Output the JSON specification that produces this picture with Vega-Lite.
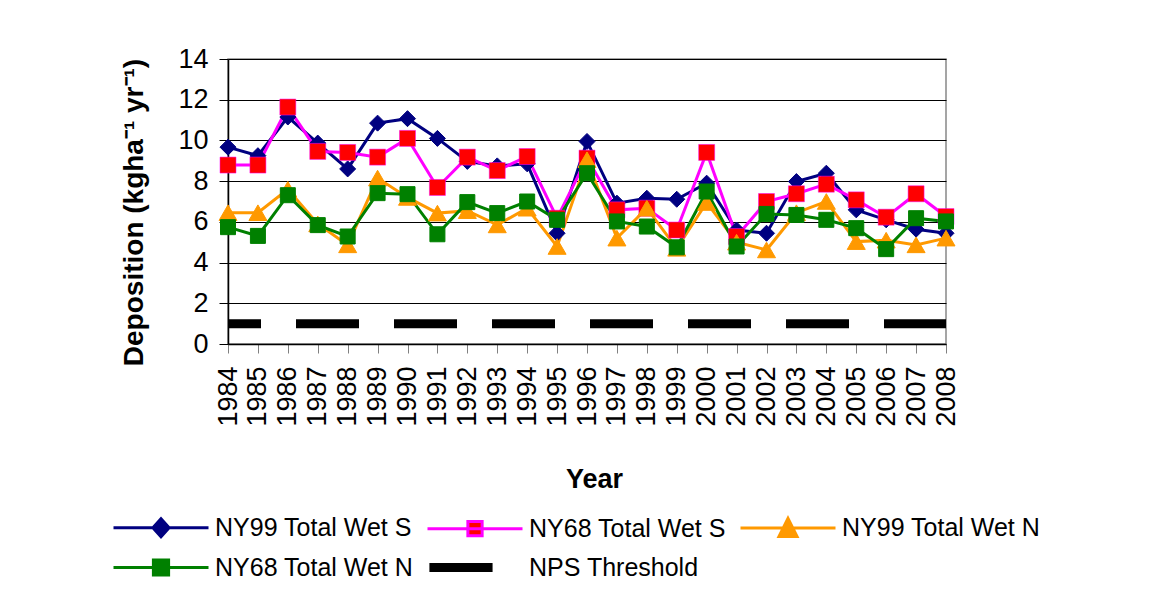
{
  "$schema": "https://vega.github.io/schema/vega-lite/v6.json",
  "width": 718,
  "height": 285,
  "autosize": {"type": "none"},
  "padding": {"left": 228, "top": 59, "right": 225, "bottom": 262},
  "background": "white",
  "config": {
    "font": "Liberation Sans",
    "view": {"stroke": "#888888", "strokeWidth": 1.5},
    "axis": {"labelFont": "Liberation Sans", "titleFont": "Liberation Sans", "labelColor": "black", "titleColor": "black"}
  },
  "data": {
    "values": [
      {"year": "1984", "series": "NY99 Total Wet S", "value": 9.67},
      {"year": "1985", "series": "NY99 Total Wet S", "value": 9.25},
      {"year": "1986", "series": "NY99 Total Wet S", "value": 11.15},
      {"year": "1987", "series": "NY99 Total Wet S", "value": 9.87},
      {"year": "1988", "series": "NY99 Total Wet S", "value": 8.6},
      {"year": "1989", "series": "NY99 Total Wet S", "value": 10.85},
      {"year": "1990", "series": "NY99 Total Wet S", "value": 11.07},
      {"year": "1991", "series": "NY99 Total Wet S", "value": 10.1},
      {"year": "1992", "series": "NY99 Total Wet S", "value": 8.97},
      {"year": "1993", "series": "NY99 Total Wet S", "value": 8.75},
      {"year": "1994", "series": "NY99 Total Wet S", "value": 8.85},
      {"year": "1995", "series": "NY99 Total Wet S", "value": 5.44},
      {"year": "1996", "series": "NY99 Total Wet S", "value": 9.95},
      {"year": "1997", "series": "NY99 Total Wet S", "value": 6.92},
      {"year": "1998", "series": "NY99 Total Wet S", "value": 7.16},
      {"year": "1999", "series": "NY99 Total Wet S", "value": 7.11},
      {"year": "2000", "series": "NY99 Total Wet S", "value": 7.9},
      {"year": "2001", "series": "NY99 Total Wet S", "value": 5.6},
      {"year": "2002", "series": "NY99 Total Wet S", "value": 5.44},
      {"year": "2003", "series": "NY99 Total Wet S", "value": 7.98},
      {"year": "2004", "series": "NY99 Total Wet S", "value": 8.39},
      {"year": "2005", "series": "NY99 Total Wet S", "value": 6.59},
      {"year": "2006", "series": "NY99 Total Wet S", "value": 6.1},
      {"year": "2007", "series": "NY99 Total Wet S", "value": 5.64},
      {"year": "2008", "series": "NY99 Total Wet S", "value": 5.44},
      {"year": "1984", "series": "NY68 Total Wet S", "value": 8.79},
      {"year": "1985", "series": "NY68 Total Wet S", "value": 8.79},
      {"year": "1986", "series": "NY68 Total Wet S", "value": 11.64},
      {"year": "1987", "series": "NY68 Total Wet S", "value": 9.46},
      {"year": "1988", "series": "NY68 Total Wet S", "value": 9.41},
      {"year": "1989", "series": "NY68 Total Wet S", "value": 9.18},
      {"year": "1990", "series": "NY68 Total Wet S", "value": 10.1},
      {"year": "1991", "series": "NY68 Total Wet S", "value": 7.69},
      {"year": "1992", "series": "NY68 Total Wet S", "value": 9.18},
      {"year": "1993", "series": "NY68 Total Wet S", "value": 8.52},
      {"year": "1994", "series": "NY68 Total Wet S", "value": 9.21},
      {"year": "1995", "series": "NY68 Total Wet S", "value": 6.18},
      {"year": "1996", "series": "NY68 Total Wet S", "value": 9.13},
      {"year": "1997", "series": "NY68 Total Wet S", "value": 6.59},
      {"year": "1998", "series": "NY68 Total Wet S", "value": 6.67},
      {"year": "1999", "series": "NY68 Total Wet S", "value": 5.6},
      {"year": "2000", "series": "NY68 Total Wet S", "value": 9.41},
      {"year": "2001", "series": "NY68 Total Wet S", "value": 5.28},
      {"year": "2002", "series": "NY68 Total Wet S", "value": 7.0},
      {"year": "2003", "series": "NY68 Total Wet S", "value": 7.38},
      {"year": "2004", "series": "NY68 Total Wet S", "value": 7.85},
      {"year": "2005", "series": "NY68 Total Wet S", "value": 7.08},
      {"year": "2006", "series": "NY68 Total Wet S", "value": 6.23},
      {"year": "2007", "series": "NY68 Total Wet S", "value": 7.38},
      {"year": "2008", "series": "NY68 Total Wet S", "value": 6.26},
      {"year": "1984", "series": "NY99 Total Wet N", "value": 6.45},
      {"year": "1985", "series": "NY99 Total Wet N", "value": 6.45},
      {"year": "1986", "series": "NY99 Total Wet N", "value": 7.6},
      {"year": "1987", "series": "NY99 Total Wet N", "value": 5.9},
      {"year": "1988", "series": "NY99 Total Wet N", "value": 4.87},
      {"year": "1989", "series": "NY99 Total Wet N", "value": 8.15},
      {"year": "1990", "series": "NY99 Total Wet N", "value": 7.2},
      {"year": "1991", "series": "NY99 Total Wet N", "value": 6.43},
      {"year": "1992", "series": "NY99 Total Wet N", "value": 6.55},
      {"year": "1993", "series": "NY99 Total Wet N", "value": 5.85},
      {"year": "1994", "series": "NY99 Total Wet N", "value": 6.67},
      {"year": "1995", "series": "NY99 Total Wet N", "value": 4.79},
      {"year": "1996", "series": "NY99 Total Wet N", "value": 9.05},
      {"year": "1997", "series": "NY99 Total Wet N", "value": 5.2},
      {"year": "1998", "series": "NY99 Total Wet N", "value": 6.67},
      {"year": "1999", "series": "NY99 Total Wet N", "value": 4.7},
      {"year": "2000", "series": "NY99 Total Wet N", "value": 6.95},
      {"year": "2001", "series": "NY99 Total Wet N", "value": 5.0},
      {"year": "2002", "series": "NY99 Total Wet N", "value": 4.62},
      {"year": "2003", "series": "NY99 Total Wet N", "value": 6.45},
      {"year": "2004", "series": "NY99 Total Wet N", "value": 7.0},
      {"year": "2005", "series": "NY99 Total Wet N", "value": 5.03},
      {"year": "2006", "series": "NY99 Total Wet N", "value": 5.1},
      {"year": "2007", "series": "NY99 Total Wet N", "value": 4.87},
      {"year": "2008", "series": "NY99 Total Wet N", "value": 5.2},
      {"year": "1984", "series": "NY68 Total Wet N", "value": 5.74},
      {"year": "1985", "series": "NY68 Total Wet N", "value": 5.31},
      {"year": "1986", "series": "NY68 Total Wet N", "value": 7.31},
      {"year": "1987", "series": "NY68 Total Wet N", "value": 5.84},
      {"year": "1988", "series": "NY68 Total Wet N", "value": 5.28},
      {"year": "1989", "series": "NY68 Total Wet N", "value": 7.41},
      {"year": "1990", "series": "NY68 Total Wet N", "value": 7.36},
      {"year": "1991", "series": "NY68 Total Wet N", "value": 5.39},
      {"year": "1992", "series": "NY68 Total Wet N", "value": 6.97},
      {"year": "1993", "series": "NY68 Total Wet N", "value": 6.43},
      {"year": "1994", "series": "NY68 Total Wet N", "value": 7.0},
      {"year": "1995", "series": "NY68 Total Wet N", "value": 6.1},
      {"year": "1996", "series": "NY68 Total Wet N", "value": 8.39},
      {"year": "1997", "series": "NY68 Total Wet N", "value": 6.02},
      {"year": "1998", "series": "NY68 Total Wet N", "value": 5.77},
      {"year": "1999", "series": "NY68 Total Wet N", "value": 4.75},
      {"year": "2000", "series": "NY68 Total Wet N", "value": 7.49},
      {"year": "2001", "series": "NY68 Total Wet N", "value": 4.79},
      {"year": "2002", "series": "NY68 Total Wet N", "value": 6.39},
      {"year": "2003", "series": "NY68 Total Wet N", "value": 6.34},
      {"year": "2004", "series": "NY68 Total Wet N", "value": 6.1},
      {"year": "2005", "series": "NY68 Total Wet N", "value": 5.69},
      {"year": "2006", "series": "NY68 Total Wet N", "value": 4.66},
      {"year": "2007", "series": "NY68 Total Wet N", "value": 6.18},
      {"year": "2008", "series": "NY68 Total Wet N", "value": 6.02},
      {"year": "1984", "series": "NPS Threshold", "value": 1},
      {"year": "1985", "series": "NPS Threshold", "value": 1},
      {"year": "1986", "series": "NPS Threshold", "value": 1},
      {"year": "1987", "series": "NPS Threshold", "value": 1},
      {"year": "1988", "series": "NPS Threshold", "value": 1},
      {"year": "1989", "series": "NPS Threshold", "value": 1},
      {"year": "1990", "series": "NPS Threshold", "value": 1},
      {"year": "1991", "series": "NPS Threshold", "value": 1},
      {"year": "1992", "series": "NPS Threshold", "value": 1},
      {"year": "1993", "series": "NPS Threshold", "value": 1},
      {"year": "1994", "series": "NPS Threshold", "value": 1},
      {"year": "1995", "series": "NPS Threshold", "value": 1},
      {"year": "1996", "series": "NPS Threshold", "value": 1},
      {"year": "1997", "series": "NPS Threshold", "value": 1},
      {"year": "1998", "series": "NPS Threshold", "value": 1},
      {"year": "1999", "series": "NPS Threshold", "value": 1},
      {"year": "2000", "series": "NPS Threshold", "value": 1},
      {"year": "2001", "series": "NPS Threshold", "value": 1},
      {"year": "2002", "series": "NPS Threshold", "value": 1},
      {"year": "2003", "series": "NPS Threshold", "value": 1},
      {"year": "2004", "series": "NPS Threshold", "value": 1},
      {"year": "2005", "series": "NPS Threshold", "value": 1},
      {"year": "2006", "series": "NPS Threshold", "value": 1},
      {"year": "2007", "series": "NPS Threshold", "value": 1},
      {"year": "2008", "series": "NPS Threshold", "value": 1}
    ]
  },
  "encoding": {
    "x": {
      "field": "year", "type": "ordinal",
      "scale": {"type": "point", "padding": 0},
      "axis": {
        "title": "Year", "titleFontSize": 27, "titleFontWeight": "bold", "titlePadding": 40, "titleX": 366,
        "labelAngle": -90, "labelFontSize": 27, "labelPadding": 13,
        "tickSize": 9, "tickColor": "#808080", "domainColor": "black", "domainWidth": 1.5,
        "labelOverlap": false
      }
    },
    "y": {
      "field": "value", "type": "quantitative",
      "scale": {"domain": [0, 14], "nice": false, "zero": true},
      "axis": {
        "title": "Deposition (kgha⁻¹ yr⁻¹)", "titleFontSize": 28, "titleFontWeight": "bold", "titlePadding": 29, "titleY": 153,
        "values": [0, 2, 4, 6, 8, 10, 12, 14], "labelFontSize": 27, "labelPadding": 11,
        "tickSize": 9, "tickColor": "black", "domainColor": "black", "domainWidth": 1.5,
        "gridColor": "black", "gridWidth": 1
      }
    },
    "stroke": {
      "field": "series", "type": "nominal",
      "scale": {"domain": ["NY99 Total Wet S", "NY68 Total Wet S", "NY99 Total Wet N", "NY68 Total Wet N", "NPS Threshold"],
                "range": ["#000080", "#FF00FF", "#FF9900", "#008000", "#000000"]},
      "legend": {
        "title": null, "orient": "none", "legendX": -79.5, "legendY": 456,
        "direction": "horizontal", "columns": 3, "padding": 0,
        "labelFont": "Liberation Sans", "labelFontSize": 25, "labelColor": "black", "labelLimit": 0,
        "symbolSize": 9025, "symbolStrokeWidth": 3, "labelOffset": 41.5, "columnPadding": 8, "rowPadding": 10,
        "encode": {
          "symbols": {
            "update": {
              "shape": {"signal": "datum.value === 'NY99 Total Wet S' ? 'M-1,0H1M0,-0.19L0.17,0L0,0.19L-0.17,0Z' : datum.value === 'NY68 Total Wet S' ? 'M-1,0H1M-0.15,-0.15H0.15V0.15H-0.15Z' : datum.value === 'NY99 Total Wet N' ? 'M-1,0H1M0,-0.2L0.19,0.18H-0.19Z' : datum.value === 'NY68 Total Wet N' ? 'M-1,0H1M-0.16,-0.16H0.16V0.16H-0.16Z' : 'M-0.96,-0.095H0.37V0.095H-0.96Z'"},
              "fill": {"signal": "datum.value === 'NY99 Total Wet S' ? '#000080' : datum.value === 'NY68 Total Wet S' ? '#FF0000' : datum.value === 'NY99 Total Wet N' ? '#FF9900' : datum.value === 'NY68 Total Wet N' ? '#008000' : '#000000'"},
              "fillOpacity": {"value": 1},
              "strokeWidth": {"signal": "datum.value === 'NPS Threshold' ? 0 : 3"}
            }
          }
        }
      }
    }
  },
  "layer": [
    {
      "transform": [{"filter": "datum.series === 'NPS Threshold'"}],
      "mark": {"type": "line", "strokeWidth": 9, "strokeDash": [63, 35], "strokeDashOffset": 30, "strokeCap": "butt"}
    },
    {
      "transform": [{"filter": "datum.series !== 'NPS Threshold'"}],
      "mark": {"type": "line", "strokeWidth": 3}
    },
    {
      "transform": [{"filter": "datum.series === 'NY99 Total Wet S'"}],
      "mark": {"type": "point", "shape": "diamond", "filled": true, "fill": "#000080", "opacity": 1, "strokeWidth": 1, "size": 256}
    },
    {
      "transform": [{"filter": "datum.series === 'NY68 Total Wet S'"}],
      "mark": {"type": "point", "shape": "square", "filled": true, "fill": "#FF0000", "opacity": 1, "strokeWidth": 1, "strokeOpacity": 0.5, "size": 256}
    },
    {
      "transform": [{"filter": "datum.series === 'NY99 Total Wet N'"}],
      "mark": {"type": "point", "shape": "triangle-up", "filled": true, "fill": "#FF9900", "opacity": 1, "strokeWidth": 1, "size": 324}
    },
    {
      "transform": [{"filter": "datum.series === 'NY68 Total Wet N'"}],
      "mark": {"type": "point", "shape": "square", "filled": true, "fill": "#008000", "opacity": 1, "strokeWidth": 1, "size": 225}
    }
  ]
}
